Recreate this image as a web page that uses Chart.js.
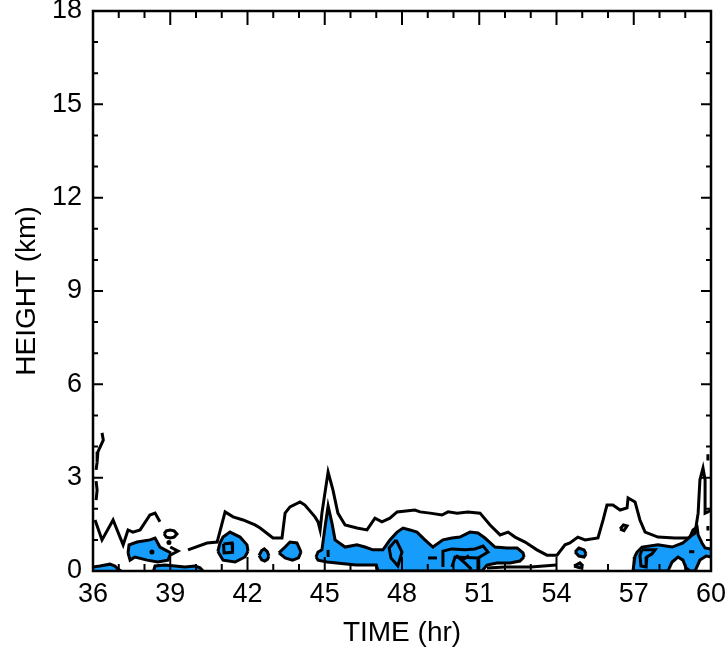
<!DOCTYPE html>
<html lang="en">
<head>
  <meta charset="UTF-8" />
  <title>Height vs time contours</title>
  <style>
    body { margin: 0; background: #fff; }
    #grafico { display: block; }
  </style>
</head>
<body>
  <canvas id="grafico" width="728" height="651"></canvas>

<script src="https://cdn.jsdelivr.net/npm/chart.js"></script>
<script>
  // axes
  const xTicks = [36, 39, 42, 45, 48, 51, 54, 57, 60];
  const yTicks = [0, 3, 6, 9, 12, 15, 18];

  // outer contour (black line only), [time hr, height km]
  const outerTop1 = [[36.35, 4.44], [36.40, 4.21], [36.19, 3.83], [36.16, 3.50], [36.12, 3.25]];
  const outerTop2 = [[36.12, 2.89], [36.16, 2.60], [36.12, 2.28]];
  const outerA = [[36.08, 1.64], [36.35, 1.00], [36.78, 1.64], [37.17, 0.84], [37.36, 1.32], [37.55, 1.25],
    [37.83, 1.32], [38.21, 1.80], [38.41, 1.86], [38.60, 1.58]];
  const outerB = [[39.69, 0.68], [40.43, 0.90], [40.82, 0.93], [41.13, 1.90], [41.44, 1.74], [41.83, 1.64],
    [42.29, 1.48], [42.49, 1.38], [42.99, 1.06], [43.34, 1.06], [43.46, 1.86], [43.65, 2.06], [44.04, 2.22],
    [44.23, 2.12], [44.62, 1.74], [44.74, 1.58], [44.82, 1.32], [44.89, 1.86], [45.13, 3.18], [45.32, 2.60],
    [45.51, 1.86], [45.79, 1.48], [46.25, 1.38], [46.64, 1.32], [46.95, 1.70], [47.22, 1.58], [47.53, 1.70],
    [47.81, 1.90], [48.50, 1.96], [48.70, 1.90], [49.09, 1.86], [49.55, 1.80], [49.79, 1.90], [50.14, 1.86],
    [50.56, 1.90], [51.03, 1.86], [51.42, 1.48], [51.81, 1.16], [52.12, 1.25], [52.39, 1.09], [52.78, 0.93],
    [53.24, 0.68], [53.63, 0.51], [54.02, 0.51], [54.33, 0.84], [54.52, 0.90], [54.83, 1.09], [55.11, 1.00],
    [55.61, 1.06], [55.81, 1.64], [55.96, 2.12], [56.19, 2.12], [56.47, 1.96], [56.74, 2.03], [56.78, 2.35],
    [57.05, 2.22], [57.24, 1.64], [57.44, 1.25], [57.94, 1.09], [58.60, 1.06], [59.11, 1.06], [59.38, 1.22],
    [59.50, 1.86], [59.57, 2.93], [59.69, 3.31], [59.77, 2.93], [59.77, 1.86], [59.88, 1.90], [60.00, 1.96]];

  // small closed contours and stray segments
  const ovalB = [[38.76, 1.19], [38.85, 1.29], [39.00, 1.32], [39.15, 1.29], [39.26, 1.19], [39.15, 1.09],
    [39.00, 1.06], [38.85, 1.09], [38.76, 1.19]];
  const wedgeB = [[39.00, 0.77], [39.30, 0.64], [39.00, 0.51]];
  const squareD = [[41.07, 0.87], [41.40, 0.90], [41.42, 0.60], [41.09, 0.58], [41.07, 0.87]];
  const diamondG = [[47.77, 1.00], [48.00, 0.61], [47.84, 0.16], [47.57, 0.42], [47.50, 0.74], [47.77, 1.00]];
  const dashG1 = [[45.13, 0.45], [45.13, 0.68]];
  const dashG2 = [[49.01, 0.42], [49.36, 0.42]];
  const loopG = [[49.59, 0.13], [49.59, 0.64], [49.94, 0.71], [50.45, 0.68], [50.83, 0.71], [51.15, 0.80],
    [51.34, 0.61], [50.95, 0.42], [50.06, 0.45], [49.94, 0.13]];
  const crossG1 = [[50.10, 0.50], [50.45, 0.25], [50.70, 0.05]];
  const crossG2 = [[50.35, 0.35], [50.60, 0.50]];
  const stemG = [[50.95, 0.42], [50.95, 0.00]];
  const lowG = [[51.30, 0.10], [52.00, 0.13], [53.00, 0.13], [54.00, 0.19]];
  const loopI = [[57.32, 0.68], [57.83, 0.68], [57.71, 0.55], [57.51, 0.45], [57.48, 0.13], [57.28, 0.16],
    [57.24, 0.51], [57.32, 0.68]];
  const dashI = [[59.15, 0.62], [59.35, 0.62]];
  const loop57 = [[56.47, 1.35], [56.60, 1.48], [56.74, 1.45], [56.62, 1.30], [56.47, 1.35]];
  const edge1 = [[59.88, 3.75], [59.88, 3.55]];
  const edge2 = [[59.88, 1.45], [59.88, 1.30]];
  const dots = [[38.29, 0.61], [38.95, 0.92]];

  // inner contour (blue), ground-based parts
  const blueA = [[36.00, 0.13], [36.27, 0.16], [36.66, 0.22], [36.85, 0.16], [36.97, 0.06], [37.09, 0.00]];
  const blueC = [[38.35, 0.00], [38.41, 0.16], [38.80, 0.19], [39.18, 0.16], [39.57, 0.13], [39.96, 0.16],
    [40.16, 0.10], [40.27, 0.00]];

  // inner contour (blue), parts with an upper and a lower edge
  const blueBTop = [[37.36, 0.58], [37.40, 0.84], [37.71, 0.93], [38.21, 1.00], [38.41, 1.06], [38.60, 0.77],
    [38.80, 0.68], [39.03, 0.58]];
  const blueBLow = [[37.36, 0.58], [37.44, 0.35], [37.63, 0.45], [38.10, 0.35], [38.52, 0.29], [38.91, 0.35],
    [39.03, 0.58]];
  const blueDTop = [[40.85, 0.64], [40.93, 0.90], [41.05, 1.09], [41.32, 1.25], [41.71, 1.09], [41.98, 0.84],
    [42.02, 0.64]];
  const blueDLow = [[40.85, 0.64], [40.93, 0.51], [41.05, 0.35], [41.52, 0.29], [41.90, 0.45], [42.02, 0.64]];
  const blueETop = [[42.45, 0.50], [42.55, 0.66], [42.65, 0.71], [42.77, 0.62], [42.83, 0.48]];
  const blueELow = [[42.45, 0.50], [42.55, 0.36], [42.67, 0.32], [42.78, 0.38], [42.83, 0.48]];
  const blueFTop = [[43.22, 0.58], [43.46, 0.77], [43.65, 0.93], [43.92, 0.90], [44.08, 0.61]];
  const blueFLow = [[43.22, 0.58], [43.46, 0.42], [43.75, 0.35], [43.98, 0.42], [44.08, 0.61]];
  const blueGTop = [[44.66, 0.45], [44.74, 0.61], [44.89, 0.68], [45.01, 1.41], [45.13, 2.09], [45.28, 1.54],
    [45.40, 1.00], [45.79, 0.77], [46.25, 0.84], [46.56, 0.77], [46.87, 0.68], [47.26, 0.68], [47.53, 1.00],
    [47.81, 1.25], [48.04, 1.38], [48.31, 1.32], [48.58, 1.25], [48.89, 1.00], [49.20, 0.77], [49.59, 1.00],
    [49.94, 1.06], [50.25, 1.09], [50.64, 1.25], [50.95, 1.22], [51.22, 1.06], [51.61, 0.77], [52.08, 0.74],
    [52.47, 0.74], [52.70, 0.58], [52.74, 0.45]];
  const blueGLow = [[44.66, 0.45], [44.74, 0.35], [45.09, 0.29], [46.21, 0.19], [47.00, 0.19], [47.07, 0.00],
    [51.11, 0.00], [51.30, 0.19], [51.69, 0.26], [52.19, 0.26], [52.58, 0.32], [52.74, 0.45]];
  const blueHTop = [[54.72, 0.61], [54.87, 0.74], [55.07, 0.68], [55.15, 0.55]];
  const blueHLow = [[54.72, 0.61], [54.87, 0.48], [55.07, 0.45], [55.15, 0.55]];
  const blueH2Top = [[54.68, 0.16], [54.91, 0.26], [55.03, 0.16]];
  const blueH2Low = [[54.68, 0.16], [54.91, 0.10], [55.03, 0.16]];
  const blueITop = [[56.97, 0.00], [57.05, 0.48], [57.13, 0.61], [57.32, 0.77], [57.94, 0.84], [58.49, 0.77],
    [58.91, 0.90], [59.18, 1.09], [59.30, 1.32], [59.46, 1.41], [59.50, 1.16], [59.65, 0.90], [59.77, 0.74],
    [60.00, 0.71]];
  const blueILow = [[56.97, 0.00], [58.33, 0.00], [58.49, 0.29], [58.72, 0.45], [58.91, 0.35], [59.03, 0.10],
    [59.18, 0.00], [59.38, 0.00], [59.57, 0.35], [59.81, 0.48], [60.00, 0.45]];

  const azul = 'rgb(22, 156, 250)';
  const fonte = 'Liberation Sans, Arial, sans-serif';

  function pontos(arr) {
    return arr.map(([x, y]) => ({ x: x, y: y }));
  }

  function linha(arr, extra) {
    return Object.assign({
      data: pontos(arr),
      borderColor: '#000',
      borderWidth: 3,
      pointRadius: 0,
      fill: false,
      tension: 0
    }, extra || {});
  }

  const datasets = [];

  // blue pieces first, the filler draws them under every line
  [blueA, blueC].forEach(p => datasets.push(linha(p, { fill: 'origin', backgroundColor: azul })));
  [[blueBTop, blueBLow], [blueDTop, blueDLow], [blueETop, blueELow], [blueFTop, blueFLow],
   [blueGTop, blueGLow], [blueHTop, blueHLow], [blueH2Top, blueH2Low], [blueITop, blueILow]]
    .forEach(([topo, base]) => {
      datasets.push(linha(base));
      datasets.push(linha(topo, { fill: '-1', backgroundColor: azul }));
    });

  [outerTop1, outerTop2, outerA, outerB, ovalB, wedgeB, squareD, diamondG, dashG1, dashG2, loopG,
   crossG1, crossG2, stemG, lowG, loopI, dashI, loop57, edge1, edge2]
    .forEach(p => datasets.push(linha(p)));

  datasets.push({
    data: pontos(dots),
    showLine: false,
    pointRadius: 2.5,
    pointBackgroundColor: '#000',
    pointBorderWidth: 0
  });

  // frame with inward ticks on all four sides
  const moldura = {
    id: 'moldura',
    afterDraw(chart) {
      const { ctx, chartArea: a, scales: { x, y } } = chart;
      ctx.save();
      ctx.strokeStyle = '#000';
      ctx.lineWidth = 2.5;
      ctx.strokeRect(a.left, a.top, a.right - a.left, a.bottom - a.top);
      ctx.lineWidth = 2;
      ctx.beginPath();
      for (let t = 36; t <= 60; t++) {
        const px = x.getPixelForValue(t);
        const len = (t - 36) % 3 === 0 ? 14 : 7;
        ctx.moveTo(px, a.bottom); ctx.lineTo(px, a.bottom - len);
        ctx.moveTo(px, a.top); ctx.lineTo(px, a.top + len);
      }
      for (let h = 0; h <= 18; h++) {
        const py = y.getPixelForValue(h);
        const len = h % 3 === 0 ? 10 : 5;
        ctx.moveTo(a.left, py); ctx.lineTo(a.left + len, py);
        ctx.moveTo(a.right, py); ctx.lineTo(a.right - len, py);
      }
      ctx.stroke();
      ctx.restore();
    }
  };

  // labels may hang past the frame, so no extra room is reserved for them
  function semSobra(s) {
    s.paddingTop = 0;
    s.paddingBottom = 0;
    s.paddingLeft = 0;
    s.paddingRight = 0;
  }

  new Chart(document.getElementById('grafico'), {
    type: 'line',
    data: { datasets: datasets },
    plugins: [moldura],
    options: {
      responsive: false,
      devicePixelRatio: 1,
      animation: false,
      layout: { padding: { top: 11, right: 17, left: 0, bottom: 0 } },
      plugins: {
        legend: { display: false },
        tooltip: { enabled: false },
        filler: { drawTime: 'beforeDatasetsDraw' }
      },
      scales: {
        x: {
          type: 'linear',
          min: 36,
          max: 60,
          afterBuildTicks: s => { s.ticks = xTicks.map(v => ({ value: v })); },
          afterFit: s => { s.height = 80; semSobra(s); },
          grid: { display: false, drawTicks: false },
          border: { display: false },
          ticks: { autoSkip: false, maxRotation: 0, padding: 7, color: '#000', font: { family: fonte, size: 27 } },
          title: {
            display: true,
            text: 'TIME (hr)',
            color: '#000',
            font: { family: fonte, size: 28, lineHeight: 1 },
            padding: { top: 0, bottom: 4 }
          }
        },
        y: {
          type: 'linear',
          min: 0,
          max: 18,
          afterBuildTicks: s => { s.ticks = yTicks.map(v => ({ value: v })); },
          afterFit: s => { s.width = 93; semSobra(s); },
          grid: { display: false, drawTicks: false },
          border: { display: false },
          ticks: { autoSkip: false, padding: 11, color: '#000', font: { family: fonte, size: 27 } },
          title: {
            display: true,
            text: 'HEIGHT (km)',
            color: '#000',
            font: { family: fonte, size: 28, lineHeight: 1 },
            padding: { top: 13, bottom: 0 }
          }
        }
      }
    }
  });
</script>
</body>
</html>
